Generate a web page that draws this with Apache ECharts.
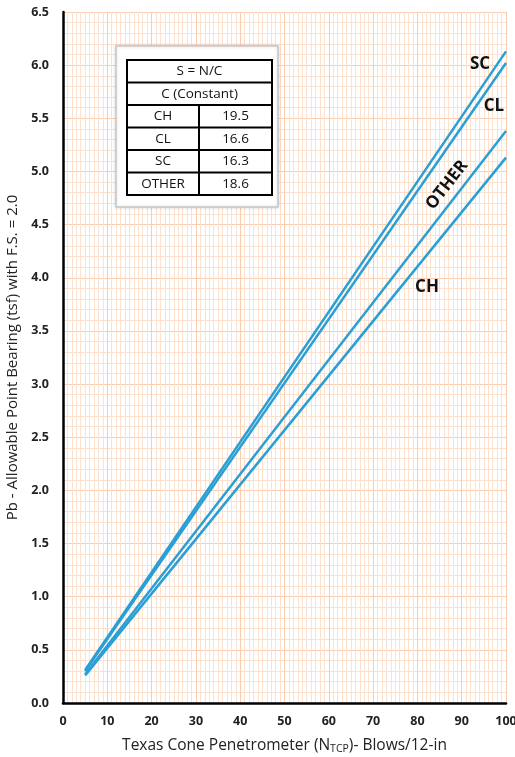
<!DOCTYPE html>
<html>
<head>
<meta charset="utf-8">
<script src="https://cdn.jsdelivr.net/npm/echarts@6/dist/echarts.min.js"></script>
<style>
  html, body { margin: 0; padding: 0; background: #fff; }
  #main { width: 515px; height: 757px; }
</style>
</head>
<body>
<div id="main"></div>
<script>
var myChart = echarts.init(document.getElementById('main'), null, {renderer: 'canvas'});

// blows (x) where each line starts / ends
var blows = [5, 100];
// allowable point bearing (tsf)
var scVals = [0.31, 6.13];
var clVals = [0.30, 6.02];
var otherVals = [0.27, 5.38];
var chVals = [0.26, 5.13];

// table in the corner
var tableSoils = ['CH', 'CL', 'SC', 'OTHER'];
var tableConst = ['19.5', '16.6', '16.3', '18.6'];

var lineColor = '#2a9fd6';
var font = '"Open Sans", Lato, sans-serif';

function pairs(vals) {
    return blows.map(function (b, i) { return [b, vals[i]]; });
}

function lineSeries(name, vals) {
    return {
        name: name,
        type: 'line',
        data: pairs(vals),
        symbol: 'none',
        lineStyle: { color: lineColor, width: 2.5 }
    };
}

// table graphic
var tX0 = 127, tX1 = 272, tXs = 199, tY0 = 60, rowH = 22.5;
var tableEls = [
    {
        type: 'rect',
        shape: { x: 116, y: 46, width: 162, height: 161 },
        style: { fill: '#fff', stroke: '#c8c8c8', lineWidth: 1.5,
                 shadowBlur: 3, shadowColor: 'rgba(0,0,0,0.15)' },
        z: 10
    },
    {
        type: 'rect',
        shape: { x: tX0, y: tY0, width: tX1 - tX0, height: rowH * 6 },
        style: { fill: '#fff', stroke: '#000', lineWidth: 2 },
        z: 11
    }
];
for (var r = 1; r < 6; r++) {
    tableEls.push({
        type: 'line',
        shape: { x1: tX0, y1: tY0 + r * rowH, x2: tX1, y2: tY0 + r * rowH },
        style: { stroke: '#000', lineWidth: 2 },
        z: 12
    });
}
tableEls.push({
    type: 'line',
    shape: { x1: tXs, y1: tY0 + 2 * rowH, x2: tXs, y2: tY0 + 6 * rowH },
    style: { stroke: '#000', lineWidth: 2 },
    z: 12
});
function cellText(txt, cx, cy) {
    return {
        type: 'text',
        x: cx, y: cy,
        style: { text: txt, font: '13.5px ' + font, fill: '#111',
                 align: 'center', verticalAlign: 'middle' },
        z: 13
    };
}
tableEls.push(cellText('S = N/C', (tX0 + tX1) / 2, tY0 + rowH * 0.5));
tableEls.push(cellText('C (Constant)', (tX0 + tX1) / 2, tY0 + rowH * 1.5));
tableSoils.forEach(function (s, i) {
    tableEls.push(cellText(s, (tX0 + tXs) / 2, tY0 + rowH * (2.5 + i)));
    tableEls.push(cellText(tableConst[i], (tXs + tX1) / 2, tY0 + rowH * (2.5 + i)));
});

function tag(txt, x, y, rot) {
    return {
        type: 'text',
        x: x, y: y,
        rotation: rot || 0,
        style: { text: txt, font: 'bold 17px ' + font, fill: '#111',
                 align: 'center', verticalAlign: 'middle' },
        z: 20
    };
}

var option = {
    backgroundColor: '#fff',
    animation: false,
    grid: { left: 63, right: 9, top: 12, bottom: 54, outerBoundsMode: 'none' },
    xAxis: {
        type: 'value',
        min: 0, max: 100, interval: 10,
        name: '{n|Texas Cone Penetrometer (N}{s|TCP}{n|)- Blows/12-in}',
        nameLocation: 'middle',
        nameGap: 33,
        nameTextStyle: {
            rich: {
                n: { fontFamily: font, fontSize: 15.5, color: '#222' },
                s: { fontFamily: font, fontSize: 10.5, color: '#222', verticalAlign: 'bottom', padding: [8, 0, 0, 0] }
            }
        },
        axisLine: { lineStyle: { color: '#000', width: 2.5 } },
        axisTick: { show: false },
        axisLabel: { fontFamily: font, fontWeight: 'bold', fontSize: 12.5, color: '#222', margin: 12 },
        splitLine: { show: true, lineStyle: { color: '#fbcdae', width: 1 } },
        minorTick: { show: false, splitNumber: 10 },
        minorSplitLine: { show: true, lineStyle: { color: '#fde1cf', width: 1 } }
    },
    yAxis: {
        type: 'value',
        min: 0, max: 6.5, interval: 0.5,
        name: 'Pb - Allowable Point Bearing (tsf) with F.S. = 2.0',
        nameLocation: 'middle',
        nameGap: 43,
        nameTextStyle: { fontFamily: font, fontSize: 15, color: '#222' },
        axisLine: { show: true, lineStyle: { color: '#000', width: 2.5 } },
        axisTick: { show: false },
        axisLabel: {
            fontFamily: font, fontWeight: 'bold', fontSize: 12.5, color: '#222', margin: 14,
            formatter: function (v) { return v.toFixed(1); }
        },
        splitLine: { show: true, lineStyle: { color: '#fbcdae', width: 1 } },
        minorTick: { show: false, splitNumber: 5 },
        minorSplitLine: { show: true, lineStyle: { color: '#fde1cf', width: 1 } }
    },
    series: [
        lineSeries('SC', scVals),
        lineSeries('CL', clVals),
        lineSeries('OTHER', otherVals),
        lineSeries('CH', chVals)
    ],
    graphic: tableEls.concat([
        tag('SC', 480, 64),
        tag('CL', 494, 106),
        tag('OTHER', 447, 185, 0.91),
        tag('CH', 427, 287)
    ])
};

myChart.setOption(option);
</script>
</body>
</html>
